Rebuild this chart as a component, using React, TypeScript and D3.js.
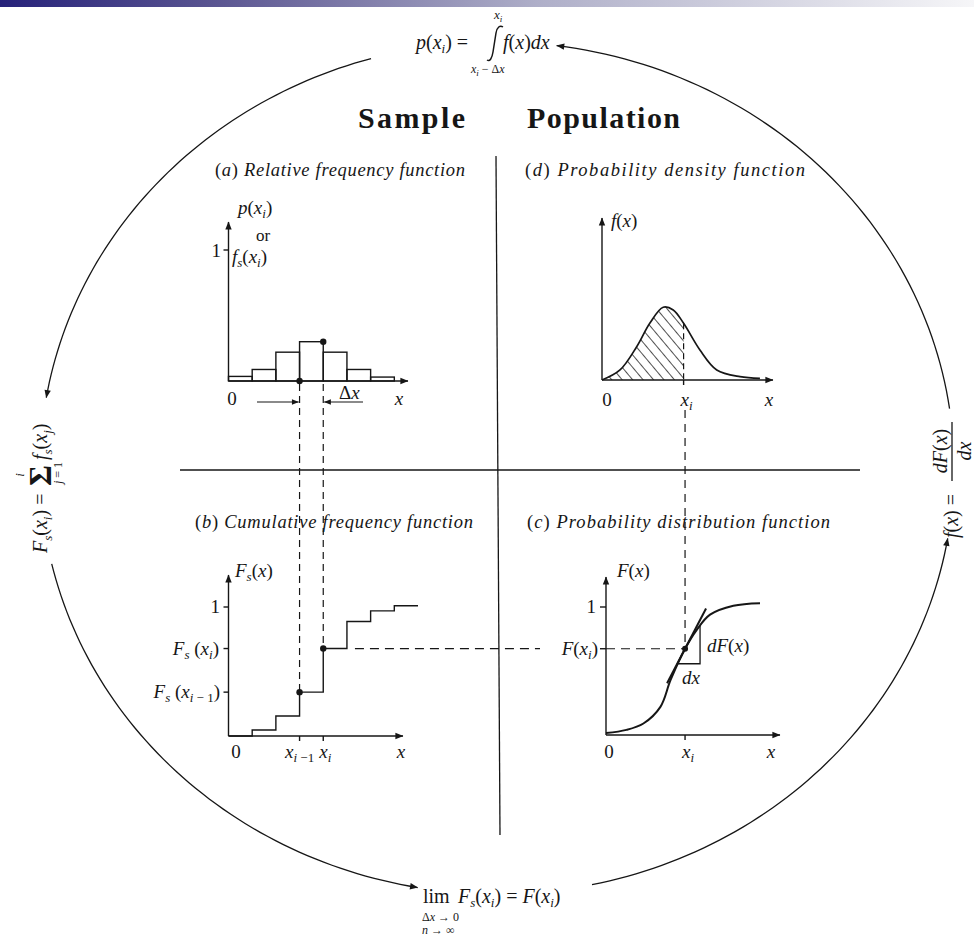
import React from 'react';
import * as d3 from 'd3';

// ---------- data ----------
const headers = ['Sample', 'Population'];
const panelTitles = [
  '(a) Relative frequency function',
  '(d) Probability density function',
  '(b) Cumulative frequency function',
  '(c) Probability distribution function',
];
// (a) relative frequency of each class interval
const relFreq = [0.035, 0.088, 0.22, 0.3, 0.22, 0.088, 0.03];
// (b) cumulative frequency level after each class interval
const cumFreq = [0.047, 0.155, 0.34, 0.678, 0.888, 0.97, 1.01];
const binIndex = 3; // the interval ending at x_i
// (d) probability density curve
const pdfX = [0, 1.06, 2.04, 2.82, 3.6, 4.19, 4.8, 5.76, 6.75, 8.12, 9.29];
const pdfY = [0, 0.067, 0.222, 0.38, 0.485, 0.467, 0.378, 0.2, 0.067, 0.022, 0.011];
const pdfXi = 4.8;
// (c) probability distribution curve
const cdfX = [0, 1.2, 2.2, 3.2, 3.8, 4.65, 5.33, 6.12, 7.49, 9.06];
const cdfY = [0.015, 0.04, 0.09, 0.22, 0.43, 0.674, 0.82, 0.94, 1.01, 1.03];
const cdfXi = 4.65;

const SERIF = "'Liberation Serif', 'Times New Roman', Times, 'DejaVu Serif', serif";
const INK = '#161616';

export default function App() {
  // scales
  const xL = d3.scaleLinear().domain([0, 8]).range([228.5, 418]);
  const yA = d3.scaleLinear().domain([0, 1]).range([381, 250]);
  const yB = d3.scaleLinear().domain([0, 1]).range([736, 607]);
  const xD = d3.scaleLinear().domain([0, 10]).range([602, 772]);
  const yD = d3.scaleLinear().domain([0, 1]).range([380, 230]);
  const xC = d3.scaleLinear().domain([0, 10]).range([606, 776]);
  const yC = d3.scaleLinear().domain([0, 1]).range([735, 607]);

  // outer ellipse
  const cx = 497, cy = 468, rx = 457, ry = 426;
  const arcs = [
    [254, 189.5],
    [167, 100],
    [78, 9.5],
    [-8, -82.5],
  ];
  const arcPath = (a0: number, a1: number) => {
    const pts = d3.range(61).map((k) => {
      const t = ((a0 + ((a1 - a0) * k) / 60) * Math.PI) / 180;
      return [cx + rx * Math.cos(t), cy + ry * Math.sin(t)] as [number, number];
    });
    return d3.line()(pts) as string;
  };

  // (a) bars
  const bars = relFreq.map((v, i) => {
    const x0 = Math.max(xL(i), xL(0));
    return { x: x0, w: xL(i + 1) - x0, y: yA(v), h: yA(0) - yA(v) };
  });

  // (b) step function
  const stepPts: [number, number][] = [[xL(0), yB(0)]];
  cumFreq.forEach((c, k) => stepPts.push([xL(k + 1), yB(c)]));
  stepPts.push([xL(8), yB(cumFreq[cumFreq.length - 1])]);
  const stepPath = d3.line().curve(d3.curveStepAfter)(stepPts) as string;

  // (d) density
  const pdfPts = pdfX.map((u, i) => [xD(u), yD(pdfY[i])] as [number, number]);
  const pdfLine = d3.line().curve(d3.curveCatmullRom.alpha(0.5))(pdfPts) as string;
  const pdfArea = d3
    .area<[number, number]>()
    .x((d) => d[0])
    .y0(yD(0))
    .y1((d) => d[1])
    .curve(d3.curveCatmullRom.alpha(0.5))(pdfPts) as string;
  const pdfAtXi = pdfY[pdfX.indexOf(pdfXi)];

  // (c) distribution
  const cdfPts = cdfX.map((u, i) => [xC(u), yC(cdfY[i])] as [number, number]);
  const cdfLine = d3.line().curve(d3.curveCatmullRom.alpha(0.5))(cdfPts) as string;
  const cdfInterp = d3.scaleLinear().domain(cdfX).range(cdfY);
  const Fxi = cdfInterp(cdfXi);
  const P = [xC(cdfXi), yC(Fxi)];
  const iA = cdfX.indexOf(3.8), iB = cdfX.indexOf(5.33);
  const slope = (yC(cdfY[iB]) - yC(cdfY[iA])) / (xC(cdfX[iB]) - xC(cdfX[iA]));
  const tanX0 = P[0] - 18, tanX1 = P[0] + 21;
  const triY = P[1] + 15;
  const triXL = P[0] + 15 / slope;
  const triXR = P[0] + 15;
  const triTop = yC(cdfInterp(xC.invert(triXR)));

  const sw = 1.4;
  const it = { fontStyle: 'italic' as const };

  return (
    <svg
      width={974}
      height={939}
      viewBox="0 0 974 939"
      style={{ position: 'absolute', left: 0, top: 0, background: '#fff', fontFamily: SERIF }}
      fill={INK}
    >
      <defs>
        <linearGradient id="topbar" x1="0" x2="1" y1="0" y2="0">
          <stop offset="0" stopColor="#26227a" />
          <stop offset="0.22" stopColor="#5a5591" />
          <stop offset="0.55" stopColor="#aeaec8" />
          <stop offset="1" stopColor="#f6f6f8" />
        </linearGradient>
        <marker id="ah" viewBox="0 0 10 10" refX="9.5" refY="5" markerWidth="9" markerHeight="8"
          markerUnits="userSpaceOnUse" orient="auto">
          <path d="M0,1 L10,5 L0,9 Z" fill={INK} />
        </marker>
        <marker id="ahs" viewBox="0 0 10 10" refX="9.5" refY="5" markerWidth="8" markerHeight="7"
          markerUnits="userSpaceOnUse" orient="auto">
          <path d="M0,1 L10,5 L0,9 Z" fill={INK} />
        </marker>
        <pattern id="hatch" patternUnits="userSpaceOnUse" width="8" height="8" patternTransform="rotate(-40)">
          <line x1="0" y1="-1" x2="0" y2="9" stroke={INK} strokeWidth={1.5} />
        </pattern>
        <clipPath id="clipXi">
          <rect x={xD(0)} y={200} width={xD(pdfXi) - xD(0)} height={200} />
        </clipPath>
      </defs>

      <rect x={0} y={0} width={974} height={7} fill="url(#topbar)" />

      {/* outer cycle arrows */}
      {arcs.map(([a0, a1], i) => (
        <path key={i} d={arcPath(a0, a1)} fill="none" stroke={INK} strokeWidth={1.3} markerEnd="url(#ah)" />
      ))}

      {/* top formula */}
      <g fontSize={20}>
        <text x={416} y={49}>
          <tspan {...it}>p</tspan>(<tspan {...it}>x</tspan>
          <tspan dy={4} fontSize={13} {...it}>i</tspan>
          <tspan dy={-4}>) =</tspan>
        </text>
        <path d="M487,60 C490,62 492,58 493,52 L496,33 C497,27 500,25 503,27" fill="none" stroke={INK} strokeWidth={1.5} />
        <text x={503} y={49}>
          <tspan {...it}>f</tspan>(<tspan {...it}>x</tspan>)<tspan {...it}>dx</tspan>
        </text>
        <text x={494} y={19} fontSize={13}>
          <tspan {...it}>x</tspan><tspan dy={3} fontSize={9} {...it}>i</tspan>
        </text>
        <text x={471} y={73} fontSize={12}>
          <tspan {...it}>x</tspan><tspan dy={3} fontSize={9} {...it}>i</tspan>
          <tspan dy={-3}> − Δ</tspan><tspan {...it}>x</tspan>
        </text>
      </g>

      {/* left formula */}
      <g transform="translate(47,482) rotate(-90)" fontSize={20}>
        <text x={-71} y={0}>
          <tspan {...it}>F</tspan><tspan dy={5} fontSize={13} {...it}>s</tspan>
          <tspan dy={-5}>(</tspan><tspan {...it}>x</tspan>
          <tspan dy={5} fontSize={13} {...it}>i</tspan><tspan dy={-5}>) =</tspan>
        </text>
        <text x={-4} y={4} fontSize={32} fontWeight="bold">Σ</text>
        <text x={7} y={-23} fontSize={13} textAnchor="middle" {...it}>i</text>
        <text x={9} y={15} fontSize={12} textAnchor="middle">
          <tspan {...it}>j</tspan> = 1
        </text>
        <text x={22} y={0}>
          <tspan {...it}>f</tspan><tspan dy={5} fontSize={13} {...it}>s</tspan>
          <tspan dy={-5}>(</tspan><tspan {...it}>x</tspan>
          <tspan dy={5} fontSize={13} {...it}>j</tspan><tspan dy={-5}>)</tspan>
        </text>
      </g>

      {/* right formula */}
      <g transform="translate(958,480) rotate(-90)" fontSize={20}>
        <text x={-58} y={0}>
          <tspan {...it}>f</tspan>(<tspan {...it}>x</tspan>) =
        </text>
        <line x1={-1} x2={58} y1={-6} y2={-6} stroke={INK} strokeWidth={1.3} />
        <text x={29} y={-11} textAnchor="middle">
          <tspan {...it}>dF</tspan>(<tspan {...it}>x</tspan>)
        </text>
        <text x={29} y={13} textAnchor="middle" {...it}>dx</text>
      </g>

      {/* bottom formula */}
      <g fontSize={20}>
        <text x={423} y={903}>lim</text>
        <text x={458} y={903}>
          <tspan {...it}>F</tspan><tspan dy={4} fontSize={13} {...it}>s</tspan>
          <tspan dy={-4}>(</tspan><tspan {...it}>x</tspan>
          <tspan dy={4} fontSize={13} {...it}>i</tspan><tspan dy={-4}>) = </tspan>
          <tspan {...it}>F</tspan>(<tspan {...it}>x</tspan>
          <tspan dy={4} fontSize={13} {...it}>i</tspan><tspan dy={-4}>)</tspan>
        </text>
        <text x={422} y={921} fontSize={12}>
          Δ<tspan {...it}>x</tspan> → 0
        </text>
        <text x={422} y={934} fontSize={12}>
          <tspan {...it}>n</tspan> → ∞
        </text>
      </g>

      {/* headers */}
      <text x={358} y={128} fontSize={30} fontWeight="bold" textLength={107} lengthAdjust="spacing">{headers[0]}</text>
      <text x={527} y={128} fontSize={30} fontWeight="bold" textLength={153} lengthAdjust="spacing">{headers[1]}</text>

      {/* quadrant dividers */}
      <line x1={496} y1={156} x2={500} y2={835} stroke={INK} strokeWidth={1.3} />
      <line x1={180} y1={470} x2={860} y2={470} stroke={INK} strokeWidth={1.3} />

      {/* panel titles */}
      {[
        { x: 215, y: 176, len: 250, t: panelTitles[0] },
        { x: 525, y: 176, len: 280, t: panelTitles[1] },
        { x: 195, y: 528, len: 278, t: panelTitles[2] },
        { x: 527, y: 528, len: 303, t: panelTitles[3] },
      ].map((p, i) => (
        <text key={i} x={p.x} y={p.y} fontSize={18.5} textLength={p.len} lengthAdjust="spacing">
          {p.t.slice(0, 1)}
          <tspan {...it}>{p.t.slice(1, 2)}</tspan>
          {p.t.slice(2, 4)}
          <tspan {...it}>{p.t.slice(4)}</tspan>
        </text>
      ))}

      {/* ===== (a) relative frequency ===== */}
      <g stroke={INK} strokeWidth={sw} fill="none">
        {bars.map((b, i) => (
          <rect key={i} x={b.x} y={b.y} width={b.w} height={b.h} />
        ))}
        <line x1={xL(0)} y1={yA(0)} x2={xL(0)} y2={222} markerEnd="url(#ah)" />
        <line x1={xL(0)} y1={yA(0)} x2={408} y2={yA(0)} markerEnd="url(#ah)" />
        <line x1={xL(0) - 5} x2={xL(0)} y1={yA(1)} y2={yA(1)} />
        <line x1={xL(binIndex)} x2={xL(binIndex)} y1={yA(0) + 3} y2={yB(cumFreq[binIndex - 1])} strokeDasharray="7 5" strokeWidth={1.2} />
        <line x1={xL(binIndex + 1)} x2={xL(binIndex + 1)} y1={yA(0) + 3} y2={yB(cumFreq[binIndex])} strokeDasharray="7 5" strokeWidth={1.2} />
        <line x1={257} x2={xL(binIndex) - 1} y1={402} y2={402} markerEnd="url(#ahs)" strokeWidth={1.2} />
        <line x1={363} x2={xL(binIndex + 1) + 1} y1={402} y2={402} markerEnd="url(#ahs)" strokeWidth={1.2} />
      </g>
      <circle cx={xL(binIndex)} cy={yA(0)} r={3.2} />
      <circle cx={xL(binIndex + 1)} cy={yA(relFreq[binIndex])} r={3.2} />
      <g fontSize={19}>
        <text x={238} y={214}>
          <tspan {...it}>p</tspan>(<tspan {...it}>x</tspan>
          <tspan dy={4} fontSize={13} {...it}>i</tspan><tspan dy={-4}>)</tspan>
        </text>
        <text x={263} y={241} fontSize={17} textAnchor="middle">or</text>
        <text x={232} y={263}>
          <tspan {...it}>f</tspan><tspan dy={4} fontSize={13} {...it}>s</tspan>
          <tspan dy={-4}>(</tspan><tspan {...it}>x</tspan>
          <tspan dy={4} fontSize={13} {...it}>i</tspan><tspan dy={-4}>)</tspan>
        </text>
        <text x={221} y={257} textAnchor="end">1</text>
        <text x={232} y={405} textAnchor="middle">0</text>
        <text x={399} y={405} textAnchor="middle" {...it}>x</text>
        <text x={339} y={399}>Δ<tspan {...it}>x</tspan></text>
      </g>

      {/* ===== (b) cumulative frequency ===== */}
      <g stroke={INK} strokeWidth={sw} fill="none">
        <path d={stepPath} />
        <line x1={xL(0)} y1={yB(0)} x2={xL(0)} y2={575} markerEnd="url(#ah)" />
        <line x1={xL(0)} y1={yB(0)} x2={403} y2={yB(0)} markerEnd="url(#ah)" />
        {[1, cumFreq[binIndex], cumFreq[binIndex - 1]].map((v, i) => (
          <line key={i} x1={xL(0) - 5} x2={xL(0)} y1={yB(v)} y2={yB(v)} />
        ))}
        {[binIndex, binIndex + 1].map((k) => (
          <line key={k} x1={xL(k)} x2={xL(k)} y1={yB(0)} y2={yB(0) + 5} />
        ))}
        <line x1={xL(binIndex + 2) + 8} x2={540} y1={yB(cumFreq[binIndex])} y2={yB(cumFreq[binIndex])} strokeDasharray="9 6" strokeWidth={1.2} />
      </g>
      <circle cx={xL(binIndex)} cy={yB(cumFreq[binIndex - 1])} r={3.2} />
      <circle cx={xL(binIndex + 1)} cy={yB(cumFreq[binIndex])} r={3.2} />
      <g fontSize={19}>
        <text x={235} y={577}>
          <tspan {...it}>F</tspan><tspan dy={4} fontSize={13} {...it}>s</tspan>
          <tspan dy={-4}>(</tspan><tspan {...it}>x</tspan>)
        </text>
        <text x={220} y={613} textAnchor="end">1</text>
        <text x={219} y={655} textAnchor="end">
          <tspan {...it}>F</tspan><tspan dy={4} fontSize={13} {...it}>s</tspan>
          <tspan dy={-4}> (</tspan><tspan {...it}>x</tspan>
          <tspan dy={4} fontSize={13} {...it}>i</tspan><tspan dy={-4}>)</tspan>
        </text>
        <text x={220} y={698} textAnchor="end">
          <tspan {...it}>F</tspan><tspan dy={4} fontSize={13} {...it}>s</tspan>
          <tspan dy={-4}> (</tspan><tspan {...it}>x</tspan>
          <tspan dy={4} fontSize={13} {...it}>i</tspan><tspan fontSize={13}> − 1</tspan><tspan dy={-4}>)</tspan>
        </text>
        <text x={236} y={758} textAnchor="middle">0</text>
        <text x={xL(binIndex)} y={758} textAnchor="middle">
          <tspan {...it}>x</tspan><tspan dy={4} fontSize={13} {...it}>i</tspan><tspan fontSize={13}> −1</tspan>
        </text>
        <text x={xL(binIndex + 1) + 2} y={758} textAnchor="middle">
          <tspan {...it}>x</tspan><tspan dy={4} fontSize={13} {...it}>i</tspan>
        </text>
        <text x={401} y={758} textAnchor="middle" {...it}>x</text>
      </g>

      {/* ===== (d) probability density ===== */}
      <path d={pdfArea} fill="url(#hatch)" clipPath="url(#clipXi)" stroke="none" />
      <g stroke={INK} strokeWidth={sw} fill="none">
        <path d={pdfLine} strokeWidth={1.7} />
        <line x1={xD(0)} y1={yD(0)} x2={xD(0)} y2={218} markerEnd="url(#ah)" />
        <line x1={xD(0)} y1={yD(0)} x2={773} y2={yD(0)} markerEnd="url(#ah)" />
        <line x1={xD(pdfXi)} x2={xD(pdfXi)} y1={yD(pdfAtXi)} y2={yD(0)} strokeDasharray="6 4" strokeWidth={1.2} />
        <line x1={xD(pdfXi)} x2={xD(pdfXi)} y1={yD(0)} y2={yD(0) + 5} />
        <line x1={xC(cdfXi)} x2={xC(cdfXi)} y1={410} y2={P[1]} strokeDasharray="8 6" strokeWidth={1.2} />
      </g>
      <g fontSize={19}>
        <text x={611} y={227}>
          <tspan {...it}>f</tspan>(<tspan {...it}>x</tspan>)
        </text>
        <text x={607} y={406} textAnchor="middle">0</text>
        <text x={xD(pdfXi) + 3} y={406} textAnchor="middle">
          <tspan {...it}>x</tspan><tspan dy={4} fontSize={13} {...it}>i</tspan>
        </text>
        <text x={769} y={406} textAnchor="middle" {...it}>x</text>
      </g>

      {/* ===== (c) probability distribution ===== */}
      <g stroke={INK} strokeWidth={sw} fill="none">
        <path d={cdfLine} strokeWidth={2} />
        <line x1={xC(0)} y1={yC(0)} x2={xC(0)} y2={577} markerEnd="url(#ah)" />
        <line x1={xC(0)} y1={yC(0)} x2={780} y2={yC(0)} markerEnd="url(#ah)" />
        {[1, Fxi].map((v, i) => (
          <line key={i} x1={xC(0) - 6} x2={xC(0)} y1={yC(v)} y2={yC(v)} />
        ))}
        <line x1={P[0]} x2={P[0]} y1={yC(0)} y2={yC(0) + 5} />
        <line x1={xC(0)} x2={P[0]} y1={P[1]} y2={P[1]} strokeDasharray="9 6" strokeWidth={1.2} />
        <line x1={tanX0} y1={P[1] + slope * (tanX0 - P[0])} x2={tanX1} y2={P[1] + slope * (tanX1 - P[0])} strokeWidth={2} />
        <polyline points={`${triXL},${triY} ${triXR},${triY} ${triXR},${triTop}`} strokeWidth={1.3} />
      </g>
      <circle cx={P[0]} cy={P[1]} r={3} />
      <g fontSize={19}>
        <text x={617} y={577}>
          <tspan {...it}>F</tspan>(<tspan {...it}>x</tspan>)
        </text>
        <text x={596} y={613} textAnchor="end">1</text>
        <text x={598} y={655} textAnchor="end">
          <tspan {...it}>F</tspan>(<tspan {...it}>x</tspan>
          <tspan dy={4} fontSize={13} {...it}>i</tspan><tspan dy={-4}>)</tspan>
        </text>
        <text x={609} y={758} textAnchor="middle">0</text>
        <text x={P[0] + 3} y={758} textAnchor="middle">
          <tspan {...it}>x</tspan><tspan dy={4} fontSize={13} {...it}>i</tspan>
        </text>
        <text x={771} y={758} textAnchor="middle" {...it}>x</text>
        <text x={707} y={652}>
          <tspan {...it}>dF</tspan>(<tspan {...it}>x</tspan>)
        </text>
        <text x={682} y={684} {...it}>dx</text>
      </g>
    </svg>
  );
}
